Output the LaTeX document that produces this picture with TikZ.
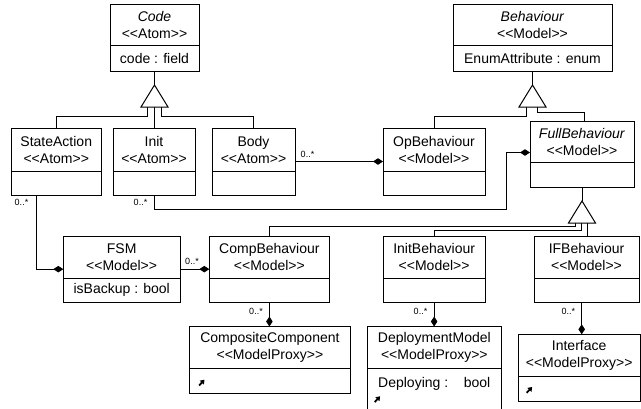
\documentclass[tikz,border=0pt]{standalone}
\usepackage{fontspec}
\newfontfamily\umlfont{Liberation Sans}
\usetikzlibrary{arrows.meta}

\tikzset{
  umlline/.style={line width=1pt, draw=black},
  umlframe/.style={rectangle, draw=black, line width=1pt, inner sep=0pt, outer sep=0pt},
  umltext/.style={font=\umlfont\fontsize{14}{17}\selectfont, align=center, inner sep=0pt},
  multlabel/.style={font=\umlfont\fontsize{9}{10}\selectfont, inner sep=0pt},
  owner/.style={-{Diamond[length=10pt,width=6.5pt]}},
  genhead/.style={line width=1pt, draw=black, fill=white},
  proxyicon/.style={line width=1.8pt, -{Triangle[length=4pt,width=5.5pt]}},
}

% class box: name, left, top, right, bottom, divider, title
\newcommand\umlclass[7]{%
  \node[umlframe, minimum width={(#4-#2)*1pt}, minimum height={(#5-#3)*1pt}] (#1) at ({(#2+#4)/2},{(#3+#5)/2}) {};
  \draw[umlline] (#2,#6) -- (#4,#6);
  \node[umltext] (#1-name) at ({(#2+#4)/2},{(#3+#6)/2}) {#7};
}
% small proxy marker arrow
\newcommand\proxymark[1]{%
  \draw[proxyicon] ([shift={(-2.6pt,-2.8pt)}]#1) -- ([shift={(2.8pt,3pt)}]#1);
}

\begin{document}
\begin{tikzpicture}[x=1pt,y=-1pt]
\fill[white] (0,0) rectangle (641,408);
\clip (0,0) rectangle (641,408);

% classes
\umlclass{code}{110}{4}{199}{71}{45}{\textit{Code}\\<<Atom>>}
\umlclass{behaviour}{453}{4}{612}{71}{45}{\textit{Behaviour}\\<<Model>>}
\umlclass{stateaction}{11}{128}{101.5}{195}{171}{StateAction\\<<Atom>>}
\umlclass{init}{113}{128}{195}{195}{171}{Init\\<<Atom>>}
\umlclass{body}{212}{128}{295}{195}{171}{Body\\<<Atom>>}
\umlclass{opbeh}{383}{128.5}{485}{195}{171}{OpBehaviour\\<<Model>>}
\umlclass{fullbeh}{530}{121}{634}{187}{162.5}{\textit{FullBehaviour}\\<<Model>>}
\umlclass{fsm}{63.3}{236}{180}{302.3}{278.3}{FSM\\<<Model>>}
\umlclass{compbeh}{209.3}{236}{329.5}{302.3}{278.3}{CompBehaviour\\<<Model>>}
\umlclass{initbeh}{383.3}{236}{485}{302.3}{278.3}{InitBehaviour\\<<Model>>}
\umlclass{ifbeh}{534}{236}{639}{302.3}{278.3}{IFBehaviour\\<<Model>>}
\umlclass{compcomp}{189.3}{326.5}{350.5}{393.3}{368.3}{CompositeComponent\\<<ModelProxy>>}
\umlclass{deploy}{367.7}{326.5}{501}{420}{368.3}{DeploymentModel\\<<ModelProxy>>}
\umlclass{iface}{518.3}{334.3}{640}{401.7}{376.7}{Interface\\<<ModelProxy>>}

% attributes
\node[umltext] (code-attr) at (154.5,58) {code : field};
\node[umltext] (behaviour-attr) at (532.5,58) {EnumAttribute : enum};
\node[umltext] (fsm-attr) at (121.7,290.3) {isBackup : bool};
\node[umltext, anchor=base west] (deploy-attr) at (378,387.3) {Deploying :};
\node[umltext, anchor=base east] (deploy-type) at (490.5,387.3) {bool};

% proxy markers
\coordinate (compcomp-mark) at (201.7,382.7);
\coordinate (deploy-mark) at (377.3,399.3);
\coordinate (iface-mark) at (529.3,390);
\proxymark{compcomp-mark}
\proxymark{deploy-mark}
\proxymark{iface-mark}

% generalisation: Code
\coordinate (codegen) at (154.5,85);
\coordinate (codegenL) at (147.5,107);
\coordinate (codegenM) at (154.5,107);
\coordinate (codegenR) at (161,107);
\draw[umlline] (code.south) -- (codegen);
\draw[umlline] (codegenL) -- ++(0,9) -| (stateaction.north);
\draw[umlline] (codegenM) -- (codegenM |- init.north);
\draw[umlline] (codegenR) -- ++(0,9) -| (body.north);
\draw[genhead] (codegen) -- ++(-13.5,22) -- ++(27,0) -- cycle;

% generalisation: Behaviour
\coordinate (behgen) at (532.5,85);
\coordinate (behgenL) at (526,107);
\coordinate (behgenR) at (537,107);
\draw[umlline] (behaviour.south) -- (behgen);
\draw[umlline] (behgenL) -- ++(0,9.5) -| (opbeh.north);
\draw[umlline] (behgenR) -- ++(0,5.5) -| ([xshift=2pt]fullbeh.north);
\draw[genhead] (behgen) -- ++(-13.5,22) -- ++(27,0) -- cycle;

% generalisation: FullBehaviour
\coordinate (fbgen) at (582,201);
\coordinate (fbgenL) at (575,223);
\coordinate (fbgenM) at (581,223);
\coordinate (fbgenR) at (587.5,223);
\draw[umlline] (fullbeh.south) -- (fbgen);
\draw[umlline] (fbgenL) -- ++(0,3) -| (compbeh.north);
\draw[umlline] (fbgenM) -- ++(0,7.5) -| (initbeh.north);
\draw[umlline] (fbgenR) -- (fbgenR |- ifbeh.north);
\draw[genhead] (fbgen) -- ++(-13.5,22) -- ++(27,0) -- cycle;

% compositions
\coordinate (fbjog) at (506.5,152.5);
\draw[umlline, owner] (body.east) -- (body.east -| opbeh.west);
\draw[umlline, owner] (init.south) -- ++(0,14.3) -| (fbjog) -- (fbjog -| fullbeh.west);
\draw[umlline, owner] ([xshift=25.7pt]stateaction.south west) |- (fsm.west);
\draw[umlline, owner] (fsm.east) -- (compbeh.west);
\draw[umlline, owner] (compbeh.south) -- (compbeh.south |- compcomp.north);
\draw[umlline, owner] (initbeh.south) -- (initbeh.south |- deploy.north);
\draw[umlline, owner] ([xshift=-4.8pt]ifbeh.south) -- ([xshift=-4.8pt]ifbeh.south |- iface.north);

% multiplicities
\node[multlabel] (m-body) at (307.5,154) {0..*};
\node[multlabel] (m-stateaction) at (21.5,202) {0..*};
\node[multlabel] (m-init) at (140.5,202) {0..*};
\node[multlabel] (m-fsm) at (192,261) {0..*};
\node[multlabel] (m-compbeh) at (256,311) {0..*};
\node[multlabel] (m-initbeh) at (420.5,311) {0..*};
\node[multlabel] (m-ifbeh) at (568.3,311) {0..*};
\end{tikzpicture}
\end{document}
